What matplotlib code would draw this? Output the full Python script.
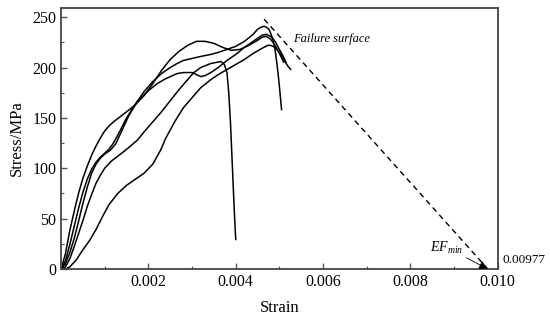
import matplotlib
matplotlib.use("Agg")
import matplotlib.pyplot as plt
from matplotlib.ticker import MultipleLocator, FixedLocator

plt.rcParams['font.family'] = ['Liberation Serif', 'DejaVu Serif']
plt.rcParams['mathtext.fontset'] = 'custom'
plt.rcParams['mathtext.rm'] = 'Liberation Serif'
plt.rcParams['mathtext.it'] = 'Liberation Serif:italic'

# Curve A: early kink, peak ~227
a_strain = [0.0, 0.0001, 0.0002, 0.0003, 0.0004, 0.0005, 0.0006, 0.0007, 0.0008, 0.0009, 0.0010,
            0.0011, 0.0012, 0.00135, 0.0015, 0.0017, 0.0019, 0.0021, 0.0023, 0.0025, 0.0027,
            0.0029, 0.0031, 0.0033, 0.0035, 0.0037, 0.0039, 0.0041, 0.0043, 0.0045, 0.0046,
            0.0047, 0.0048, 0.0049, 0.0050, 0.0051]
a_stress = [0, 15, 38, 57, 75, 90, 102, 113, 122, 130, 137,
            142, 146, 151, 156, 163, 172, 184, 197, 208, 216,
            222, 226, 226, 224, 220, 217, 218, 222, 227, 230,
            231, 228, 222, 214, 205]
# Curve B: highest peak 241, vertical drop
b_strain = [0.0, 0.0001, 0.0002, 0.0003, 0.0004, 0.0005, 0.0006, 0.0007, 0.0008, 0.0009, 0.0010,
            0.00113, 0.00125, 0.0014, 0.00155, 0.00174, 0.0019, 0.0021, 0.0023, 0.0025, 0.00266,
            0.0028, 0.0030, 0.0032, 0.00343, 0.0036, 0.0038, 0.0040, 0.0042, 0.0044, 0.0045,
            0.00458, 0.00465, 0.0047, 0.00476, 0.0048, 0.00485, 0.0049, 0.00494, 0.00498, 0.00502, 0.00505]
b_stress = [0, 5, 16, 30, 47, 65, 81, 95, 104, 110, 114,
            118, 124, 138, 152, 166, 176, 186, 194, 200, 204,
            207, 209, 211, 213, 215, 218, 221, 226, 233, 238,
            240, 241, 240, 238, 234, 228, 218, 205, 190, 172, 158]
# Curve C: plateau with dip
c_strain = [0.0, 0.0001, 0.0002, 0.0003, 0.0004, 0.0005, 0.0006, 0.0007, 0.0008, 0.0009, 0.0010,
            0.0011, 0.0012, 0.00135, 0.0015, 0.00174, 0.0020, 0.0022, 0.0024, 0.00266, 0.0028,
            0.0030, 0.0031, 0.0032, 0.0033, 0.00343, 0.0036, 0.0038, 0.0040, 0.0042, 0.0044,
            0.0046, 0.0047, 0.0048, 0.0049, 0.0050, 0.0051, 0.00515]
c_stress = [0, 8, 24, 42, 60, 76, 89, 99, 106, 111, 115,
            119, 125, 137, 150, 166, 177, 184, 189, 194, 195,
            195, 193, 191, 192, 195, 200, 207, 213, 220, 226,
            232, 233, 231, 226, 218, 210, 205]
# Curve D: early failure near 0.004
d_strain = [0.0, 0.0001, 0.0002, 0.0003, 0.0004, 0.0005, 0.0006, 0.0007, 0.0008, 0.0009, 0.0010,
            0.00115, 0.0013, 0.00145, 0.00159, 0.00175, 0.0019, 0.0021, 0.00228, 0.0025, 0.0027,
            0.0029, 0.00304, 0.0032, 0.00343, 0.00355, 0.00366, 0.00374, 0.0038, 0.00384, 0.00388,
            0.00391, 0.00394, 0.00397, 0.0040]
d_stress = [0, 2, 10, 22, 35, 48, 62, 74, 85, 93, 100,
            107, 112, 117, 122, 128, 136, 146, 155, 167, 178,
            188, 195, 200, 204, 205, 206, 203, 195, 175, 145,
            115, 85, 55, 29]
# Curve E: lowest, S-shaped
e_strain = [0.0, 0.0001, 0.0002, 0.00035, 0.0005, 0.00065, 0.0008, 0.00095, 0.0011, 0.0013, 0.0015,
            0.0017, 0.0019, 0.0021, 0.00228, 0.0024, 0.0026, 0.0028, 0.0030, 0.0032, 0.00343,
            0.0036, 0.0038, 0.0040, 0.0042, 0.0044, 0.0046, 0.00473, 0.0048, 0.0049, 0.0050,
            0.0051, 0.0052, 0.00526]
e_stress = [0, 0, 2, 9, 19, 28, 39, 52, 64, 75, 83,
            89, 95, 104, 118, 130, 146, 160, 170, 180, 188,
            193, 198, 203, 208, 214, 219, 222, 222, 220, 215,
            208, 201, 198]

fail_strain = [0.00465, 0.00977]
fail_stress = [248, 0]

x_ticks = [0.002, 0.004, 0.006, 0.008, 0.010]
x_labels = ['0.002', '0.004', '0.006', '0.008', '0.010']
y_ticks = [0, 50, 100, 150, 200, 250]

fig = plt.figure(figsize=(5.5, 3.24), dpi=100)
ax = fig.add_axes([0.111, 0.170, 0.794, 0.805])

for xs, ys in [(a_strain, a_stress), (b_strain, b_stress), (c_strain, c_stress),
               (d_strain, d_stress), (e_strain, e_stress)]:
    ax.plot(xs, ys, color='black', lw=1.1, solid_joinstyle='round', solid_capstyle='round')

ax.plot(fail_strain, fail_stress, color='black', lw=1.0, ls=(0, (4, 3)))

ax.set_xlim(0, 0.010)
ax.set_ylim(0, 259)
ax.xaxis.set_major_locator(FixedLocator(x_ticks))
ax.set_xticklabels(x_labels)
ax.xaxis.set_minor_locator(MultipleLocator(0.001))
ax.yaxis.set_major_locator(FixedLocator(y_ticks))
ax.yaxis.set_minor_locator(MultipleLocator(25))
ax.tick_params(which='both', direction='in', labelsize=11.5, color='#555555')
ax.tick_params(which='major', length=4, width=1)
ax.tick_params(which='minor', length=2.5, width=0.8)
for s in ax.spines.values():
    s.set_color('#444444')
    s.set_linewidth(1.3)

ax.set_xlabel('Strain', fontsize=12, labelpad=7)
ax.set_ylabel('Stress/MPa', fontsize=12, labelpad=5)

ax.text(0.00531, 228, 'Failure surface', fontsize=9, style='italic', va='center', ha='left')
ax.annotate('$EF_{min}$', xy=(0.00977, 0), xytext=(0.00922, 13),
            fontsize=10, ha='right', va='bottom',
            arrowprops=dict(arrowstyle='-|>', color='black', lw=0.6, mutation_scale=13,
                            shrinkA=0, shrinkB=0))
ax.text(1.012, 0.01, '0.00977', transform=ax.transAxes, fontsize=9.5, ha='left', va='bottom')

fig.savefig('out.png', dpi=100)
